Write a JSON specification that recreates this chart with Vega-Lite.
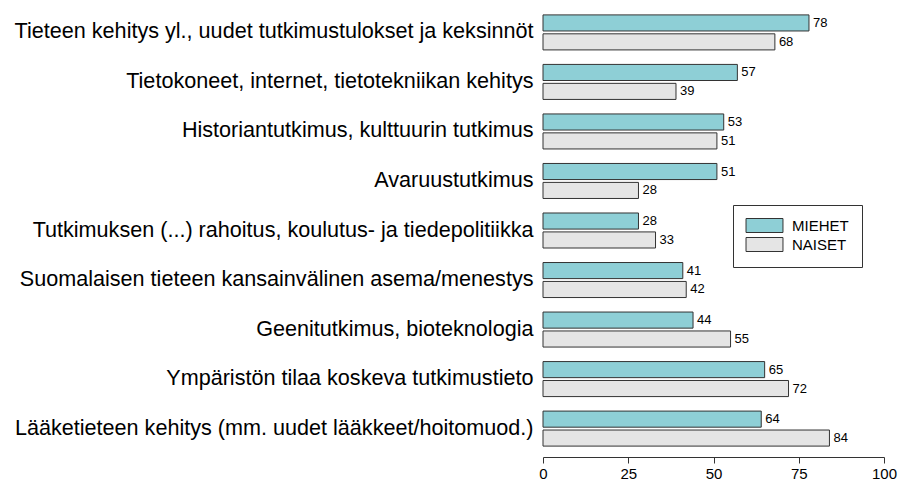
{
  "$schema": "https://vega.github.io/schema/vega-lite/v6.json",
  "autosize": {"type": "none"},
  "width": 341,
  "height": 453,
  "padding": {"left": 543, "top": 4, "right": 16, "bottom": 25},
  "background": "white",
  "config": {
    "font": "Liberation Sans",
    "view": {"stroke": null}
  },
  "data": {
    "values": [
      {"aihe": "Tieteen kehitys yl., uudet tutkimustulokset ja keksinnöt", "sukupuoli": "MIEHET", "arvo": 78},
      {"aihe": "Tieteen kehitys yl., uudet tutkimustulokset ja keksinnöt", "sukupuoli": "NAISET", "arvo": 68},
      {"aihe": "Tietokoneet, internet, tietotekniikan kehitys", "sukupuoli": "MIEHET", "arvo": 57},
      {"aihe": "Tietokoneet, internet, tietotekniikan kehitys", "sukupuoli": "NAISET", "arvo": 39},
      {"aihe": "Historiantutkimus, kulttuurin tutkimus", "sukupuoli": "MIEHET", "arvo": 53},
      {"aihe": "Historiantutkimus, kulttuurin tutkimus", "sukupuoli": "NAISET", "arvo": 51},
      {"aihe": "Avaruustutkimus", "sukupuoli": "MIEHET", "arvo": 51},
      {"aihe": "Avaruustutkimus", "sukupuoli": "NAISET", "arvo": 28},
      {"aihe": "Tutkimuksen (...) rahoitus, koulutus- ja tiedepolitiikka", "sukupuoli": "MIEHET", "arvo": 28},
      {"aihe": "Tutkimuksen (...) rahoitus, koulutus- ja tiedepolitiikka", "sukupuoli": "NAISET", "arvo": 33},
      {"aihe": "Suomalaisen tieteen kansainvälinen asema/menestys", "sukupuoli": "MIEHET", "arvo": 41},
      {"aihe": "Suomalaisen tieteen kansainvälinen asema/menestys", "sukupuoli": "NAISET", "arvo": 42},
      {"aihe": "Geenitutkimus, bioteknologia", "sukupuoli": "MIEHET", "arvo": 44},
      {"aihe": "Geenitutkimus, bioteknologia", "sukupuoli": "NAISET", "arvo": 55},
      {"aihe": "Ympäristön tilaa koskeva tutkimustieto", "sukupuoli": "MIEHET", "arvo": 65},
      {"aihe": "Ympäristön tilaa koskeva tutkimustieto", "sukupuoli": "NAISET", "arvo": 72},
      {"aihe": "Lääketieteen kehitys (mm. uudet lääkkeet/hoitomuod.)", "sukupuoli": "MIEHET", "arvo": 64},
      {"aihe": "Lääketieteen kehitys (mm. uudet lääkkeet/hoitomuod.)", "sukupuoli": "NAISET", "arvo": 84}
    ]
  },
  "encoding": {
    "y": {
      "field": "aihe", "type": "nominal", "sort": null,
      "scale": {"paddingInner": 0.293, "paddingOuter": 0.22},
      "axis": {"title": null, "domain": false, "ticks": false, "labelFontSize": 21.6, "labelColor": "black", "labelPadding": 10, "labelLimit": 0}
    },
    "yOffset": {
      "field": "sukupuoli", "type": "nominal", "sort": ["MIEHET", "NAISET"],
      "scale": {"paddingInner": 0.15}
    },
    "x": {
      "field": "arvo", "type": "quantitative",
      "scale": {"domain": [0, 100], "nice": false},
      "axis": {"title": null, "grid": false, "values": [0, 25, 50, 75, 100], "labelFontSize": 15, "labelColor": "black", "domainColor": "#333", "tickColor": "#333", "tickSize": 6, "labelPadding": 3, "labelFlush": false}
    }
  },
  "layer": [
    {
      "mark": {"type": "bar", "stroke": "#333", "strokeWidth": 1},
      "encoding": {
        "color": {
          "field": "sukupuoli", "type": "nominal", "sort": ["MIEHET", "NAISET"],
          "scale": {"domain": ["MIEHET", "NAISET"], "range": ["#8ECFD6", "#E5E5E5"]},
          "legend": {
            "title": null, "orient": "none", "legendX": 190, "legendY": 201,
            "strokeColor": "#333", "fillColor": "white", "padding": 13,
            "symbolType": "M-2.64,-1H2.64V1H-2.64Z", "symbolSize": 196,
            "symbolStrokeColor": "#333", "symbolStrokeWidth": 1, "symbolOffset": 11,
            "labelOffset": 20, "labelFontSize": 15, "labelColor": "black", "rowPadding": 0
          }
        }
      }
    },
    {
      "mark": {"type": "text", "align": "left", "baseline": "middle", "dx": 4, "fontSize": 13, "color": "black"},
      "encoding": {"text": {"field": "arvo", "type": "quantitative"}}
    }
  ]
}
